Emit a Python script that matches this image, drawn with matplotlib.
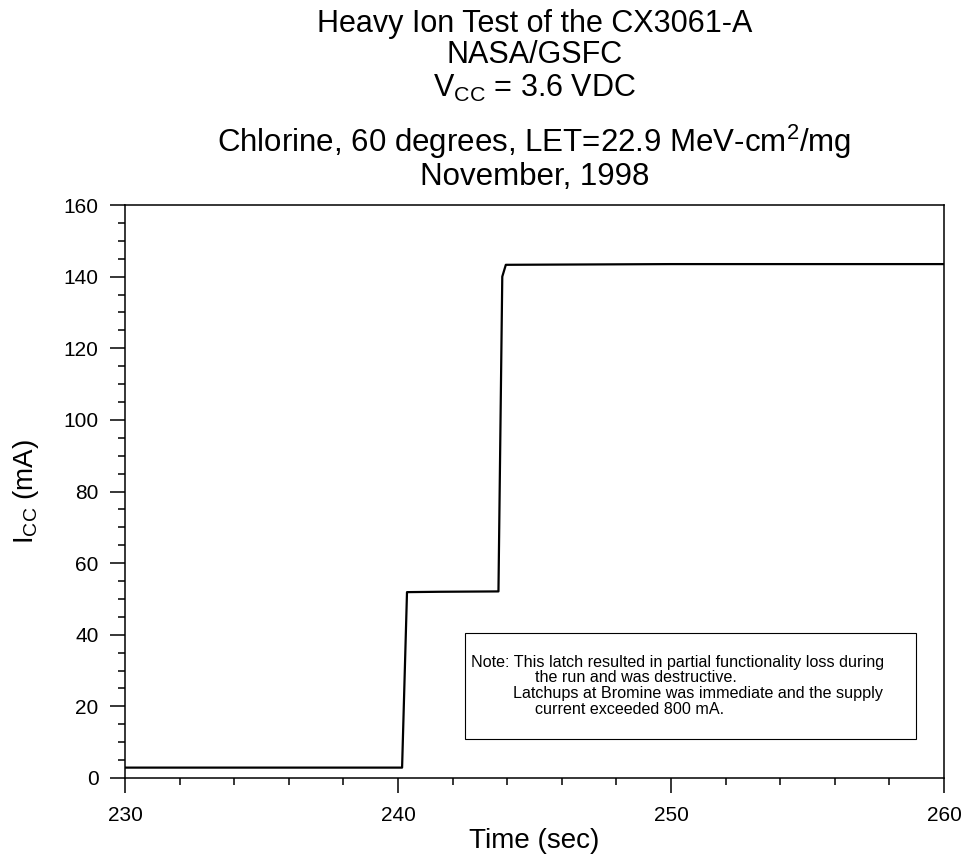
import matplotlib
matplotlib.use('Agg')
import matplotlib.pyplot as plt
from matplotlib.patches import Rectangle
from matplotlib.ticker import MultipleLocator

plt.rcParams['font.family'] = ['Liberation Sans', 'DejaVu Sans']
plt.rcParams['mathtext.fontset'] = 'custom'
plt.rcParams['mathtext.rm'] = 'Liberation Sans'
plt.rcParams['mathtext.it'] = 'Liberation Sans'

# data
time_s = [230.0, 240.15, 240.33, 241.5, 243.68, 243.82, 243.95, 250.0, 260.0]
icc_ma = [2.9, 2.9, 51.9, 52.0, 52.1, 140.0, 143.3, 143.5, 143.5]

title_lines = ['Heavy Ion Test of the CX3061-A', 'NASA/GSFC',
               r'V$_{\rm CC}$ = 3.6 VDC',
               r'Chlorine, 60 degrees, LET=22.9 MeV-cm$^{2}$/mg',
               'November, 1998']
note_lines = ['Note: This latch resulted in partial functionality loss during',
              'the run and was destructive.',
              'Latchups at Bromine was immediate and the supply',
              'current exceeded 800 mA.']

fig = plt.figure(figsize=(9.66, 8.61), dpi=100)
ax = fig.add_axes([0.1294, 0.0964, 0.8478, 0.6655])

ax.plot(time_s, icc_ma, color='black', lw=1.6)

ax.set_xlim(230, 260)
ax.set_ylim(0, 160)
ax.xaxis.set_major_locator(MultipleLocator(10))
ax.xaxis.set_minor_locator(MultipleLocator(2))
ax.yaxis.set_major_locator(MultipleLocator(20))
ax.yaxis.set_minor_locator(MultipleLocator(5))
ax.tick_params(which='major', direction='out', length=11, width=1.1, labelsize=15)
ax.tick_params(which='minor', direction='out', length=5, width=1.1)
ax.tick_params(axis='y', which='major', pad=8)
ax.tick_params(axis='x', which='major', pad=9)
for s in ax.spines.values():
    s.set_linewidth(1.1)

ax.set_xlabel('Time (sec)', fontsize=20, labelpad=2)
ax.set_ylabel(r'I$_{\rm CC}$ (mA)', fontsize=20, labelpad=16)

# titles (baselines)
ys = [0.9628, 0.9268, 0.8873, 0.8235, 0.7851]
sizes = [22, 22, 22, 22.5, 22.5]
for t, y, fs in zip(title_lines, ys, sizes):
    fig.text(0.553, y, t, ha='center', va='baseline', fontsize=fs)

# note box
ax.add_patch(Rectangle((0.415, 0.068), 0.551, 0.185, transform=ax.transAxes,
                       fill=False, lw=0.8, edgecolor='black'))
note_x = [0.4225, 0.5006, 0.4737, 0.5006]
note_y = [0.2024, 0.176, 0.148, 0.119]
for t, x, y in zip(note_lines, note_x, note_y):
    ax.text(x, y, t, transform=ax.transAxes, fontsize=11.6, ha='left', va='center')

fig.savefig('out.png', dpi=100)
